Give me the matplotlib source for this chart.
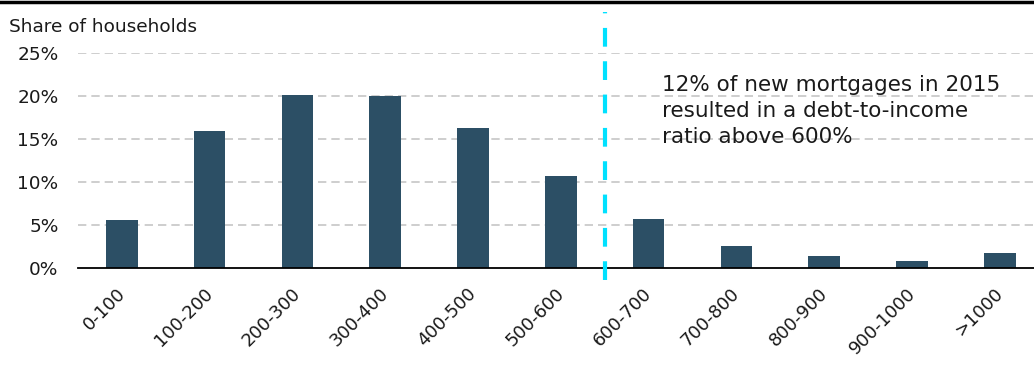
import matplotlib
matplotlib.use("Agg")
import matplotlib.pyplot as plt
import matplotlib.transforms as mtransforms
from matplotlib.lines import Line2D

# debt-to-income ranges (%) and share of households (%)
categories = ["0-100", "100-200", "200-300", "300-400", "400-500", "500-600",
              "600-700", "700-800", "800-900", "900-1000", ">1000"]
shares = [5.6, 15.9, 20.1, 20.0, 16.3, 10.7, 5.7, 2.6, 1.4, 0.8, 1.8]
yticks = [0, 5, 10, 15, 20, 25]
ytick_labels = ["0%", "5%", "10%", "15%", "20%", "25%"]
threshold_pos = 5.5
note = "12% of new mortgages in 2015\nresulted in a debt-to-income\nratio above 600%"

bar_color = "#2c4f65"
text_color = "#1a1a1a"
fs = 13.3

fig = plt.figure(figsize=(10.34, 3.65), dpi=100)
ax = fig.add_axes([78 / 1034, 1 - 268 / 365, 1 - 78 / 1034, 215 / 365])

x = list(range(len(categories)))
ax.bar(x, shares, width=0.36, color=bar_color, zorder=3)

ax.set_xlim(-0.5, 10.39)
ax.set_ylim(0, 25)
ax.set_yticks(yticks)
ax.set_yticklabels(ytick_labels, fontsize=fs, color=text_color)
ax.set_xticks(x)
ax.set_xticklabels(categories, rotation=45, ha="right", fontsize=13,
                   color=text_color)
ax.tick_params(axis="both", length=0)
ax.tick_params(axis="y", pad=14)
ax.tick_params(axis="x", pad=12)

# nudge the rotated labels to the right so they end at the bar centre
shift = mtransforms.ScaledTranslation(7 / 100, 0, fig.dpi_scale_trans)
for lab in ax.get_xticklabels():
    lab.set_transform(lab.get_transform() + shift)

for y in yticks[1:]:
    ax.axhline(y, color="#c6c6c6", lw=1.2, ls=(0, (5, 3)), zorder=1)

for s in ["top", "right", "left"]:
    ax.spines[s].set_visible(False)
ax.spines["bottom"].set_color("black")
ax.spines["bottom"].set_linewidth(1.3)
ax.spines["bottom"].set_zorder(4)

# threshold at 600%
ax.plot([threshold_pos, threshold_pos], [-1.4, 29.8], color="#00e1ff", lw=3,
        ls=(0, (4.5, 3.5)), clip_on=False, zorder=5)

ax.text(6.15, 18.3, note, fontsize=15.5, color=text_color, va="center",
        ha="left", linespacing=1.38, zorder=6)

fig.text(9 / 1034, 1 - 27 / 365, "Share of households", fontsize=fs,
         color=text_color, va="center", ha="left")

fig.add_artist(Line2D([0, 1], [1 - 1.5 / 365, 1 - 1.5 / 365], color="black",
                      lw=2.5, transform=fig.transFigure))

fig.savefig("out.png", dpi=100)
